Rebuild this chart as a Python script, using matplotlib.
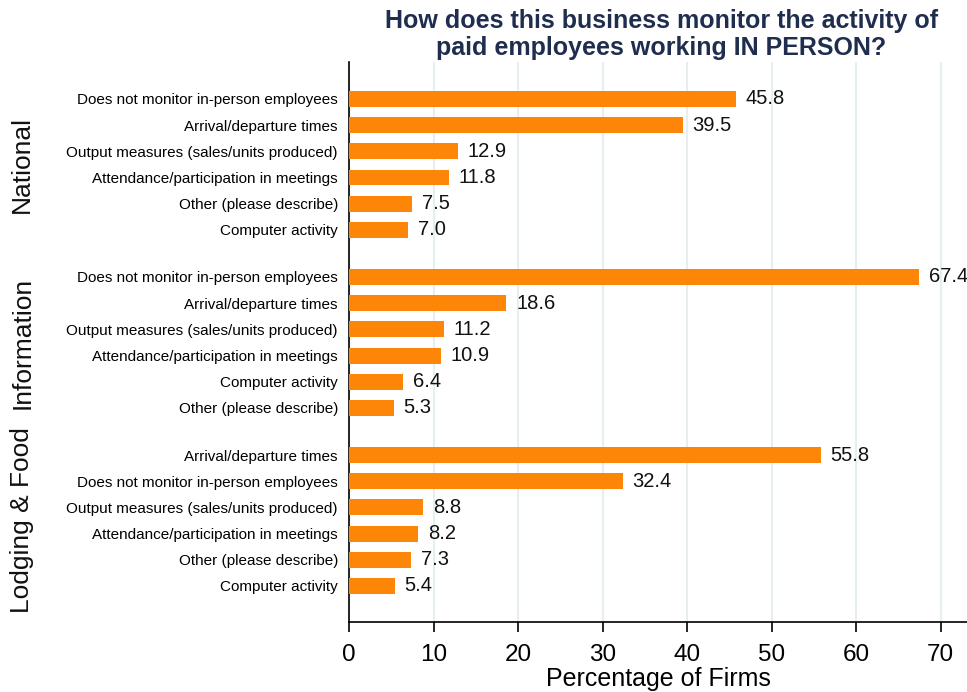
import matplotlib.pyplot as plt

plt.rcParams['font.family'] = ['Liberation Sans', 'DejaVu Sans']

groups = ['National', 'Information', 'Lodging & Food']
national_labels = ['Does not monitor in-person employees', 'Arrival/departure times',
                   'Output measures (sales/units produced)', 'Attendance/participation in meetings',
                   'Other (please describe)', 'Computer activity']
national_values = [45.8, 39.5, 12.9, 11.8, 7.5, 7.0]
info_labels = ['Does not monitor in-person employees', 'Arrival/departure times',
               'Output measures (sales/units produced)', 'Attendance/participation in meetings',
               'Computer activity', 'Other (please describe)']
info_values = [67.4, 18.6, 11.2, 10.9, 6.4, 5.3]
lodging_labels = ['Arrival/departure times', 'Does not monitor in-person employees',
                  'Output measures (sales/units produced)', 'Attendance/participation in meetings',
                  'Other (please describe)', 'Computer activity']
lodging_values = [55.8, 32.4, 8.8, 8.2, 7.3, 5.4]

all_labels = [national_labels, info_labels, lodging_labels]
all_values = [national_values, info_values, lodging_values]

bar_color = '#fd8608'
gap = 1.8

fig = plt.figure(figsize=(9.67, 6.92), dpi=100)
ax = fig.add_axes([0.361, 0.101, 0.639, 0.809])

# build row positions, with a gap between the groups
ypos, ylabels, yvals = [], [], []
group_centers = []
y = 0.0
for labels, values in zip(all_labels, all_values):
    start = y
    for lab, val in zip(labels, values):
        ypos.append(y)
        ylabels.append(lab)
        yvals.append(val)
        y += 1
    group_centers.append((start + y - 1) / 2)
    y += gap - 1

ax.barh(ypos, yvals, height=0.61, color=bar_color, zorder=3)
for yy, v in zip(ypos, yvals):
    ax.text(v + 1.15, yy, f'{v:.1f}', va='center', ha='left', fontsize=14.5, color='#111111')

ax.set_yticks(ypos)
ax.set_yticklabels(ylabels, fontsize=11)
ax.tick_params(axis='y', length=0, pad=8)
ax.set_ylim(ypos[-1] + 1.38, ypos[0] - 1.4)

ax.set_xlim(0, 73.1)
ax.set_xticks(range(0, 80, 10))
ax.tick_params(axis='x', labelsize=17.5, length=7.2, width=1.2, pad=8.5)
ax.set_xlabel('Percentage of Firms', fontsize=18, labelpad=1)
ax.grid(axis='x', color='#e6eef2', linewidth=1.5, zorder=0)

for side in ['top', 'right']:
    ax.spines[side].set_visible(False)
ax.spines['left'].set_linewidth(1.2)
ax.spines['bottom'].set_linewidth(1.2)

# group names on the far left
for g, c in zip(groups, group_centers):
    disp = ax.transData.transform((0, c))
    fy = fig.transFigure.inverted().transform(disp)[1]
    fig.text(0.023, fy, g, rotation=90, va='center', ha='center', fontsize=19, color='#111111')

fig.text(0.684, 0.950, 'How does this business monitor the activity of\npaid employees working IN PERSON?',
         ha='center', va='center', fontsize=18, fontweight='bold', color='#1f2d4f', linespacing=1.15)

fig.savefig('out.png', dpi=100)
